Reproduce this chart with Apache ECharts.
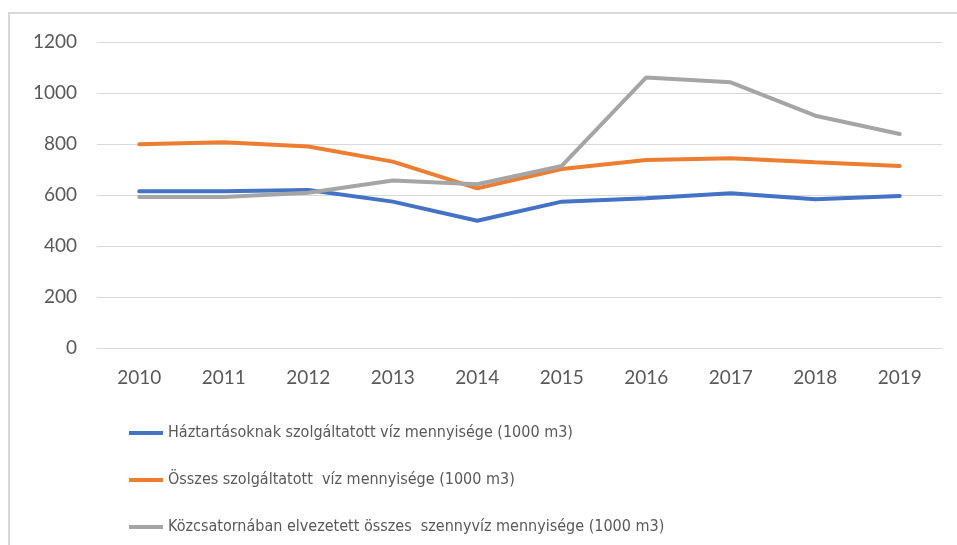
<!DOCTYPE html>
<html>
<head>
<meta charset="UTF-8">
<title></title>
<script src="https://cdn.jsdelivr.net/npm/echarts@6/dist/echarts.min.js"></script>
<style type="text/css">
	* {margin: 0; padding: 0;}
	body {background: #fff;}
</style>
</head>
<body>
<div id="chart" style="width:957px;height:545px"></div>
<script type="text/javascript">
var years = ['2010','2011','2012','2013','2014','2015','2016','2017','2018','2019'];
var haztartasi = [615, 615, 620, 574, 499, 574, 587, 607, 583, 596];
var osszes = [799, 807, 790, 731, 626, 702, 737, 744, 728, 714];
var szennyviz = [592, 592, 609, 657, 642, 714, 1061, 1042, 911, 839];
var names = [
	'Háztartásoknak szolgáltatott víz mennyisége (1000 m3)',
	'Összes szolgáltatott  víz mennyisége (1000 m3)',
	'Közcsatornában elvezetett összes  szennyvíz mennyisége (1000 m3)'
];
var colors = ['#4472C4', '#ED7D31', '#A5A5A5'];

var chart = echarts.init(document.getElementById('chart'));

function line(name, data, color) {
	return {
		name: name,
		type: 'line',
		data: data,
		symbol: 'none',
		lineStyle: {width: 4, color: color, cap: 'round'},
		itemStyle: {color: color}
	};
}

var option = {
	animation: false,
	textStyle: {fontFamily: 'Lato, sans-serif'},
	graphic: [{
		type: 'rect',
		shape: {x: 9, y: 13, width: 960, height: 545},
		style: {fill: 'none', stroke: '#d9d9d9', lineWidth: 2},
		silent: true
	}],
	grid: {left: 97, right: 15, top: 42, bottom: 197},
	legend: {
		orient: 'vertical',
		left: 124,
		top: 418,
		itemWidth: 34,
		itemHeight: 4,
		itemGap: 27,
		icon: 'rect',
		data: names,
		textStyle: {
			fontFamily: '"DejaVu Sans Condensed", Lato, sans-serif',
			fontSize: 16,
			lineHeight: 20,
			color: '#595959'
		}
	},
	xAxis: {
		type: 'category',
		data: years,
		boundaryGap: true,
		axisLine: {lineStyle: {color: '#d9d9d9', width: 1}},
		axisTick: {show: false},
		axisLabel: {color: '#595959', fontSize: 19, margin: 20}
	},
	yAxis: {
		type: 'value',
		min: 0,
		max: 1200,
		interval: 200,
		axisLine: {show: false},
		axisTick: {show: false},
		splitLine: {lineStyle: {color: '#d9d9d9', width: 1}},
		axisLabel: {color: '#595959', fontSize: 19, margin: 20, formatter: function (v) { return String(v); }}
	},
	series: [
		line(names[0], haztartasi, colors[0]),
		line(names[1], osszes, colors[1]),
		line(names[2], szennyviz, colors[2])
	]
};

chart.setOption(option);
</script>
</body>
</html>
